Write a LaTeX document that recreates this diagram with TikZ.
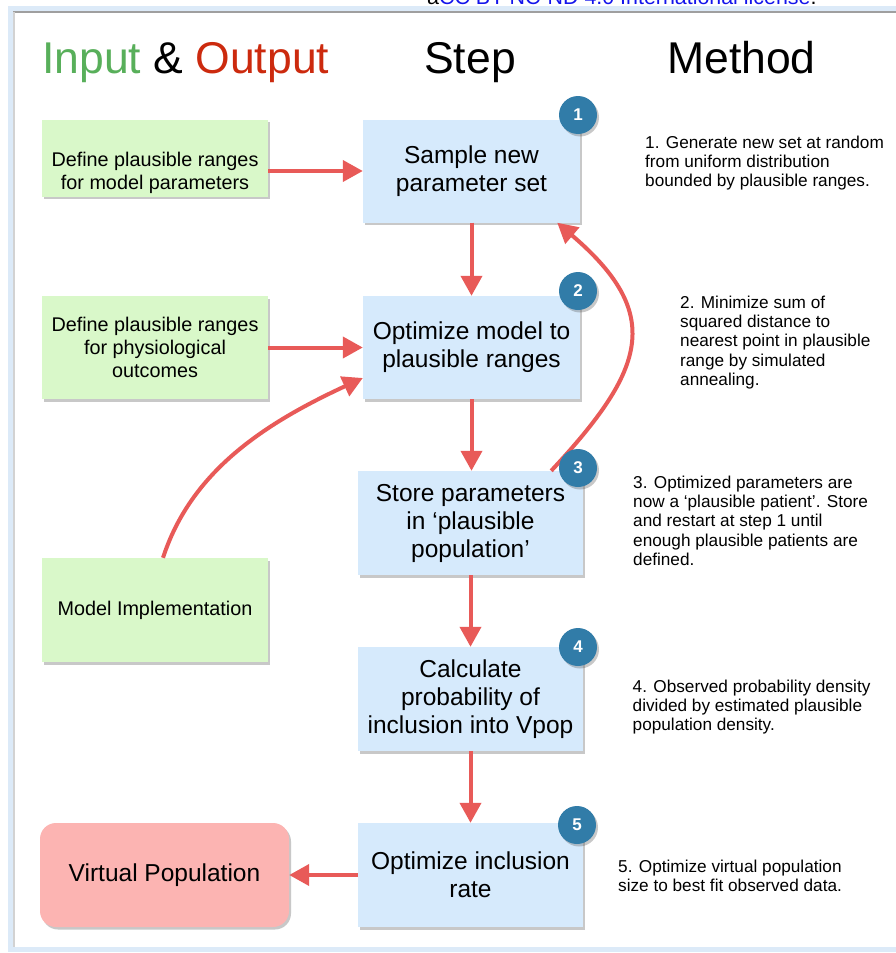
\documentclass[tikz,border=0pt]{standalone}
\usepackage{fontspec}
\setmainfont{Liberation Sans}
\usetikzlibrary{arrows.meta,shadows}
\definecolor{ttlgreen}{RGB}{88,175,90}
\definecolor{ttlred}{RGB}{204,42,14}
\definecolor{infill}{RGB}{217,248,201}
\definecolor{stepfill}{RGB}{214,234,252}
\definecolor{outfill}{RGB}{252,180,178}
\definecolor{arrowred}{RGB}{232,90,88}
\definecolor{dotblue}{RGB}{49,124,168}
\definecolor{frameblue}{RGB}{220,234,248}
\definecolor{linkblue}{RGB}{20,20,235}
\begin{document}
\begin{tikzpicture}[x=1pt,y=1pt,
  boxshadow/.style={drop shadow={shadow xshift=2pt,shadow yshift=-2.5pt,opacity=0.3,fill=black!70}},
  stepbox/.style={rectangle, fill=stepfill, boxshadow, align=center, inner sep=0pt,
    font=\fontsize{24.5}{28}\selectfont},
  inbox/.style={rectangle, fill=infill, boxshadow, align=center, inner sep=0pt,
    minimum width=226pt, font=\fontsize{19.8}{23}\selectfont},
  outbox/.style={rectangle, rounded corners=16pt, fill=outfill, boxshadow, align=center,
    inner sep=0pt, font=\fontsize{24.5}{28}\selectfont},
  numdot/.style={circle, fill=dotblue, minimum size=38pt, inner sep=0pt, text=white,
    font=\fontsize{17}{17}\selectfont\bfseries, boxshadow},
  flow/.style={draw=arrowred, line width=4pt, -{Triangle[length=20pt,width=21pt]}},
  methtext/.style={anchor=north west, align=left, inner sep=0pt,
    font=\fontsize{17.2}{19.3}\selectfont},
  headtext/.style={inner sep=0pt, font=\fontsize{44.5}{50}\selectfont},
]
\useasboundingbox (0,0) rectangle (896,-953);
% frame
\fill[frameblue] (8,-6) rectangle (896,-952);
\fill[white] (13,-11) rectangle (896,-947);
\draw[gray!75, line width=2pt] (13,-12) -- (896,-12);
\draw[gray!35, line width=1.5pt] (13.8,-12) -- (13.8,-947);
% clipped license text
\begin{scope}
\clip (0,0) rectangle (896,-953);
\node[anchor=base west, inner sep=0pt, font=\fontsize{21.4}{24}\selectfont] (lic) at (427,-4.5)
  {a\textcolor{linkblue}{CC BY-NC-ND 4.0 International license}.};
\end{scope}
% headers
\node[headtext, anchor=base west] (hio) at (42,-73)
  {\textcolor{ttlgreen}{Input} \& \textcolor{ttlred}{Output}};
\node[headtext, anchor=base] (hstep) at (470,-73) {Step};
\node[headtext, anchor=base] (hmeth) at (741.5,-73) {Method};
% input / output boxes
\node[inbox, minimum height=77pt] (G1) at (155,-158) {};
\node[inner sep=0pt, align=center, font=\fontsize{19.8}{23}\selectfont] (G1t) at (155,-173)
  {Define plausible ranges\\for model parameters};
\node[inbox, minimum height=103pt] (G2) at (155,-347.5)
  {Define plausible ranges\\for physiological\\outcomes};
\node[inbox, minimum height=104pt] (G3) at (155,-610) {Model Implementation};
\node[outbox, minimum width=249pt, minimum height=104pt] (R) at (164.5,-875) {Virtual Population};
% step boxes
\node[stepbox, minimum width=217pt, minimum height=103pt] (B1) at (471.5,-171)
  {Sample new\\parameter set};
\node[stepbox, minimum width=217pt, minimum height=103pt] (B2) at (471.5,-347.5)
  {Optimize model to\\plausible ranges};
\node[stepbox, minimum width=225pt, minimum height=104pt] (B3) at (470.5,-523)
  {Store parameters\\in ‘plausible\\population’};
\node[stepbox, minimum width=225pt, minimum height=104pt] (B4) at (470.5,-699)
  {Calculate\\probability of\\inclusion into Vpop};
\node[stepbox, minimum width=225pt, minimum height=104pt] (B5) at (470.5,-875)
  {Optimize inclusion\\rate};
% method texts
\node[methtext] (m1) at (645,-135.5)
  {1. Generate new set at random\\from uniform distribution\\bounded by plausible ranges.};
\node[methtext] (m2) at (680,-295.5)
  {2. Minimize sum of\\squared distance to\\nearest point in plausible\\range by simulated\\annealing.};
\node[methtext] (m3) at (633,-475.5)
  {3. Optimized parameters are\\now a ‘plausible patient’. Store\\and restart at step 1 until\\enough plausible patients are\\defined.};
\node[methtext] (m4) at (632.5,-679.5)
  {4. Observed probability density\\divided by estimated plausible\\population density.};
\node[methtext] (m5) at (618,-859.5)
  {5. Optimize virtual population\\size to best fit observed data.};
% connectors
\coordinate (g3out) at ([xshift=8pt]G3.north);
\coordinate (b2in) at ([yshift=-30.5pt]B2.west);
\coordinate (b3out) at ([xshift=-32pt]B3.north east);
\coordinate (b1in) at ([xshift=-23pt]B1.south east);
\draw[flow] (G1.east |- B1.west) -- (B1.west);
\draw[flow] (B1.south) -- (B2.north);
\draw[flow] (G2.east) -- (B2.west);
\draw[flow] (g3out) .. controls (190.8,-472.4) and (262.3,-424.5) .. (b2in);
\draw[flow] (B2.south) -- (B2.south |- B3.north);
\draw[flow] (b3out) .. controls (646.5,-368.7) and (664,-314) .. (b1in);
\draw[flow] (B3.south) -- (B4.north);
\draw[flow] (B4.south) -- (B5.north);
\draw[flow] (B5.west) -- (R.east);
% number badges
\node[numdot] (c1) at (578,-115) {1};
\node[numdot] (c2) at (578,-291) {2};
\node[numdot] (c3) at (578,-468) {3};
\node[numdot] (c4) at (578,-647) {4};
\node[numdot] (c5) at (577,-825) {5};
\end{tikzpicture}
\end{document}
